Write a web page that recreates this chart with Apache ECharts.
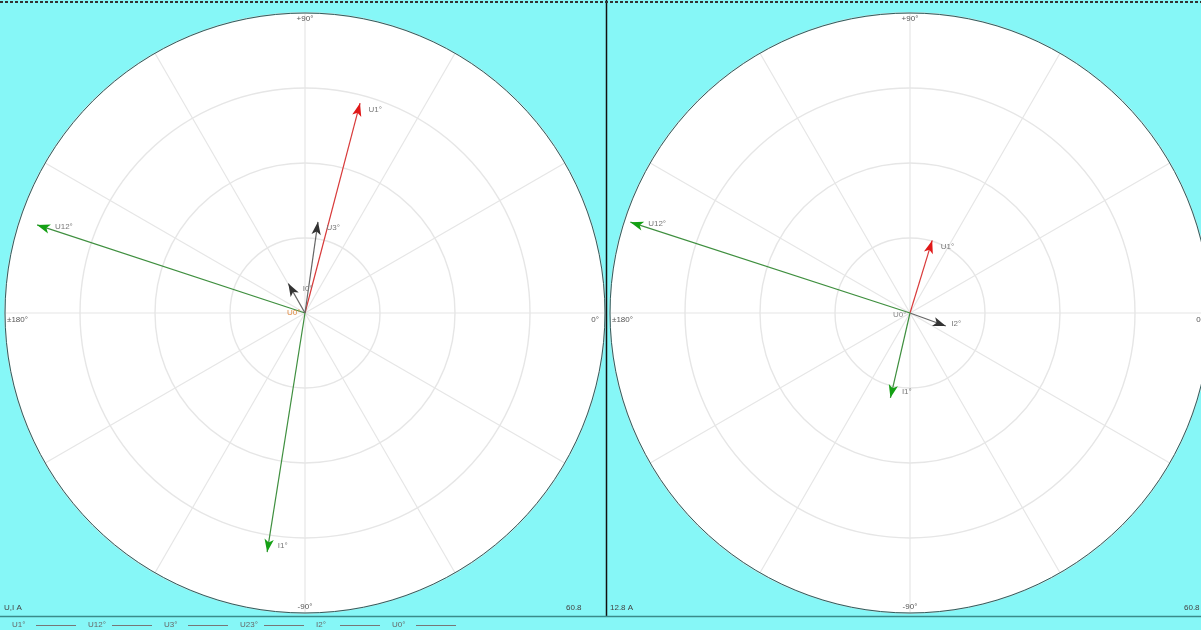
<!DOCTYPE html>
<html>
<head>
<meta charset="utf-8">
<script src="https://cdn.jsdelivr.net/npm/echarts@6/dist/echarts.min.js"></script>
<style>
  html, body { margin: 0; padding: 0; background: #86f7f7; }
  #chart { width: 1201px; height: 630px; }
</style>
</head>
<body>
<div id="chart"></div>
<script>
// Direction captions: angle (deg) and text
const dirAngles = [90, 180, 0, 270];
const dirTexts  = ['+90°', '±180°', '0°', '-90°'];

// Scale captions in the panel corners
const cornerLeft = ['U,I A', '12.8 A'];
const cornerRight = ['60.8', '60.8'];

// Phasors: name, magnitude (% of full scale), angle (deg), colour group
const leftNames   = ['U1°', 'U12°', 'I1°', 'U3°', 'I0°'];
const leftMag     = [72.3, 94.0, 80.7, 30.7, 11.3];
const leftAng     = [75.3, 161.8, 261.0, 81.9, 119.5];
const leftKind    = ['red', 'green', 'green', 'dark', 'dark'];

const rightNames  = ['U1°', 'U12°', 'I1°', 'I2°'];
const rightMag    = [25.3, 98.0, 29.0, 12.7];
const rightAng    = [73.0, 162.0, 257.0, 340.0];
const rightKind   = ['red', 'green', 'green', 'dark'];

// Bottom legend entries
const legendNames = ['U1°', 'U12°', 'U3°', 'U23°', 'I2°', 'U0°'];

// Layout of the two dials
const dials = [
  { cx: 305, cy: 313, r: 300 },
  { cx: 910, cy: 313, r: 300 }
];

const colors = {
  red:   { line: '#d83a3a', head: '#e01818' },
  green: { line: '#3f8f3f', head: '#14a014' },
  dark:  { line: '#666666', head: '#333333' }
};

function phasorSeries(names, mags, angs, kinds, polarIndex) {
  return names.map((n, i) => {
    const c = colors[kinds[i]];
    return {
      type: 'line',
      name: n,
      coordinateSystem: 'polar',
      polarIndex: polarIndex,
      silent: true,
      animation: false,
      z: 5,
      lineStyle: { color: c.line, width: 1.2 },
      itemStyle: { color: c.head },
      data: [
        { value: [0, angs[i]], symbol: 'none' },
        {
          value: [mags[i], angs[i]],
          symbol: 'arrow',
          symbolSize: [7, 13],
          symbolRotate: angs[i] - 90,
          label: {
            show: true,
            formatter: n,
            position: 'right',
            distance: 4,
            fontSize: 8,
            color: '#777'
          }
        }
      ]
    };
  });
}

function angleAxis(idx) {
  return {
    polarIndex: idx,
    type: 'value',
    min: 0,
    max: 360,
    interval: 30,
    startAngle: 0,
    clockwise: false,
    axisLine: { show: true, lineStyle: { color: '#2f5c5c', width: 1 } },
    axisTick: { show: false },
    axisLabel: { show: false },
    splitLine: { show: true, lineStyle: { color: '#e6e6e6', width: 1.2 } }
  };
}

function radiusAxis(idx) {
  return {
    polarIndex: idx,
    type: 'value',
    min: 0,
    max: 100,
    interval: 25,
    axisLine: { show: false },
    axisTick: { show: false },
    axisLabel: { show: false },
    splitLine: { show: true, lineStyle: { color: '#e6e6e6', width: 1.4 } }
  };
}

const graphics = [];

// white dial faces beneath the grid
dials.forEach(d => {
  graphics.push({
    type: 'circle', z: -10,
    shape: { cx: d.cx, cy: d.cy, r: d.r },
    style: { fill: '#ffffff' }
  });
});

// direction captions just inside each dial rim
dials.forEach(d => {
  dirAngles.forEach((a, i) => {
    const rad = a * Math.PI / 180;
    let x = d.cx + Math.cos(rad) * (d.r - 2);
    let y = d.cy - Math.sin(rad) * (d.r - 2);
    let align = 'center', vAlign = 'middle';
    if (a === 90) { vAlign = 'top'; }
    if (a === 270) { vAlign = 'bottom'; }
    if (a === 180) { align = 'left'; y += 7; }
    if (a === 0) { align = 'right'; y += 7; x -= 4; }
    graphics.push({
      type: 'text', x: x, y: y, z: 10,
      style: { text: dirTexts[i], fontSize: 8, fill: '#555', align: align, verticalAlign: vAlign }
    });
  });
});

// legend row along the bottom: caption followed by a line sample
legendNames.forEach((n, i) => {
  const x = 12 + i * 76;
  graphics.push({
    type: 'text', x: x, y: 621, z: 10,
    style: { text: n, fontSize: 8, fill: '#666' }
  });
  graphics.push({
    type: 'line', z: 10,
    shape: { x1: x + 24, y1: 625.5, x2: x + 64, y2: 625.5 },
    style: { stroke: '#777', lineWidth: 1 }
  });
});

graphics.push(
  // panel divider and frame lines
  { type: 'line', z: 10, shape: { x1: 606.5, y1: 0, x2: 606.5, y2: 616 }, style: { stroke: '#111', lineWidth: 1.5 } },
  { type: 'line', z: 10, shape: { x1: 0, y1: 616.5, x2: 1201, y2: 616.5 }, style: { stroke: '#3a8a8a', lineWidth: 1.5 } },
  { type: 'line', z: 10, shape: { x1: 0, y1: 2, x2: 1201, y2: 2 }, style: { stroke: '#333', lineWidth: 2, lineDash: [3, 2] } },
  // origin captions
  { type: 'text', z: 10, x: 287, y: 309, style: { text: 'U0°', fontSize: 8, fill: '#e08a40' } },
  { type: 'text', z: 10, x: 893, y: 311, style: { text: 'U0°', fontSize: 8, fill: '#888' } },
  // scale captions
  { type: 'text', z: 10, x: 4, y: 604, style: { text: cornerLeft[0], fontSize: 8, fill: '#444' } },
  { type: 'text', z: 10, x: 566, y: 604, style: { text: cornerRight[0], fontSize: 8, fill: '#444' } },
  { type: 'text', z: 10, x: 610, y: 604, style: { text: cornerLeft[1], fontSize: 8, fill: '#444' } },
  { type: 'text', z: 10, x: 1184, y: 604, style: { text: cornerRight[1], fontSize: 8, fill: '#444' } }
);

const chart = echarts.init(document.getElementById('chart'), null, { renderer: 'canvas' });
chart.setOption({
  backgroundColor: '#86f7f7',
  animation: false,
  polar: [
    { center: [dials[0].cx, dials[0].cy], radius: dials[0].r },
    { center: [dials[1].cx, dials[1].cy], radius: dials[1].r }
  ],
  angleAxis: [angleAxis(0), angleAxis(1)],
  radiusAxis: [radiusAxis(0), radiusAxis(1)],
  series: [
    ...phasorSeries(leftNames, leftMag, leftAng, leftKind, 0),
    ...phasorSeries(rightNames, rightMag, rightAng, rightKind, 1)
  ],
  graphic: graphics
});
</script>
</body>
</html>
